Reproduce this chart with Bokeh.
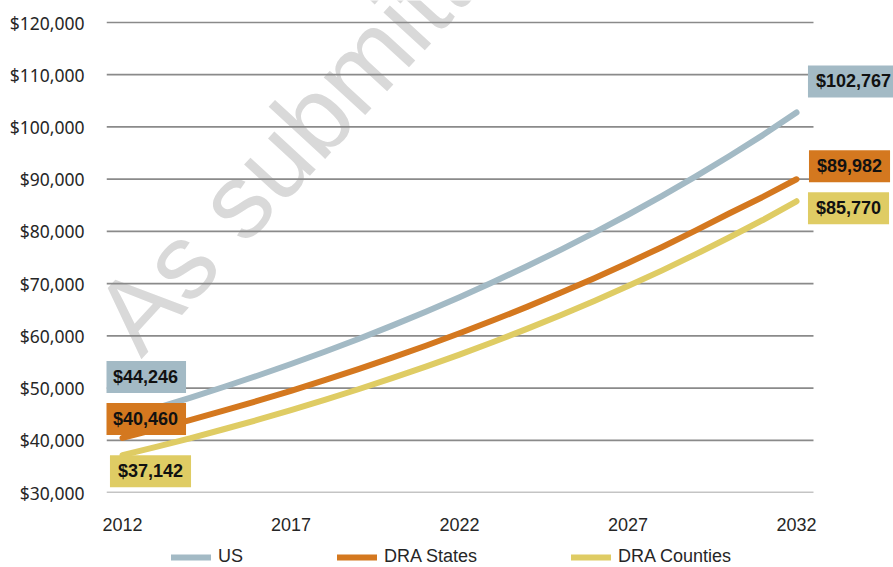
from bokeh.plotting import figure
from bokeh.layouts import column
from bokeh.models import Label, Legend, LegendItem, NumeralTickFormatter, Range1d
from bokeh.embed import file_html
from bokeh.resources import INLINE

# ---------------- data ----------------
years = list(range(2012, 2033))
us = [44246, 46150, 48130, 50200, 52360, 54610, 56960, 59400, 61960, 64620,
      67400, 70300, 73320, 76470, 79760, 83190, 86760, 90490, 94380, 98440, 102767]
dra_states = [40460, 42130, 43860, 45660, 47530, 49480, 51510, 53620, 55820, 58110,
              60490, 62970, 65550, 68240, 71040, 73950, 76980, 80140, 83430, 86600, 89982]
dra_counties = [37142, 38730, 40380, 42110, 43900, 45780, 47730, 49770, 51890, 54100,
                56410, 58820, 61330, 63950, 66680, 69520, 72490, 75590, 78820, 82180, 85770]
series_names = ["US", "DRA States", "DRA Counties"]
x_ticks = [2012, 2017, 2022, 2027, 2032]
y_ticks = [30000, 40000, 50000, 60000, 70000, 80000, 90000, 100000, 110000, 120000]
watermark_text = "As submitted"

# ---------------- styles ----------------
colors = ["#A3BAC5", "#D4781F", "#DFCC64"]
start_offsets = [(23, 41), (23, 19), (28, -16)]
end_offsets = [(57, 31), (53, 13), (52, -7)]
SANS = "Liberation Sans, Arial, sans-serif"
X_START, X_END, GRID_END = 2011.5252, 2034.878, 2032.504
Y_START, Y_END = 30000, 124213
WM_X, WM_Y = 2011.75, 60255
series = [us, dra_states, dra_counties]

p = figure(width=893, height=540, output_backend="svg", toolbar_location=None,
           x_range=Range1d(X_START, X_END), y_range=Range1d(Y_START, Y_END),
           min_border_left=106, min_border_right=0, min_border_top=0,
           min_border_bottom=48)
p.outline_line_color = None
p.background_fill_color = "white"
p.border_fill_color = "white"

# watermark (under the grid)
p.add_layout(Label(x=WM_X, y=WM_Y, text=watermark_text, angle=47.5,
                   angle_units="deg", text_font=SANS, text_font_size="106px",
                   text_baseline="alphabetic", text_align="left",
                   text_color="#d9d9d9", level="image"))

# axes
p.xaxis.ticker = x_ticks
p.yaxis.ticker = y_ticks
p.yaxis.formatter = NumeralTickFormatter(format="$0,0")
for ax in (p.xaxis[0], p.yaxis[0]):
    ax.axis_line_color = None
    ax.major_tick_line_color = None
    ax.minor_tick_line_color = None
    ax.major_label_text_color = "#262626"
p.xaxis.major_label_text_font = SANS
p.xaxis.major_label_text_font_size = "18px"
p.xaxis.major_label_standoff = 19
p.yaxis.major_label_text_font = "Noto Sans"
p.yaxis.major_label_text_font_size = "17.5px"
p.yaxis.major_label_standoff = 16

# horizontal gridlines at the y ticks, ending at the plot edge
p.xgrid.grid_line_color = None
p.ygrid.grid_line_color = None
p.segment(x0=[X_START] * len(y_ticks), x1=[GRID_END] * len(y_ticks),
          y0=y_ticks, y1=y_ticks, line_color="#8a8a8a", line_width=1.7,
          level="underlay")

# lines + end labels
for name, vals, c, so, eo in zip(series_names, series, colors,
                                  start_offsets, end_offsets):
    p.line(years, vals, line_color=c, line_width=6, line_cap="round",
           line_join="round")
    for xv, yv, off in ((years[0], vals[0], so), (years[-1], vals[-1], eo)):
        p.add_layout(Label(x=xv, y=yv, x_offset=off[0], y_offset=off[1],
                           text=f"${yv:,}", text_align="center",
                           text_baseline="middle", text_font=SANS,
                           text_font_size="18px", text_font_style="bold",
                           text_color="#111111", background_fill_color=c,
                           padding=(8, 6)))

# legend strip underneath
pl = figure(width=893, height=27, output_backend="svg", toolbar_location=None,
            x_range=Range1d(0, 1), y_range=Range1d(0, 1),
            x_axis_type=None, y_axis_type=None, min_border=0)
pl.outline_line_color = None
pl.xgrid.visible = False
pl.ygrid.visible = False
items = []
for name, vals, c in zip(series_names, series, colors):
    r = pl.line(years, vals, line_color=c, line_width=6, line_cap="round")
    items.append(LegendItem(label=name, renderers=[r]))
legend = Legend(items=items, orientation="horizontal", location=(65, 0),
                padding=0, margin=0, spacing=94, label_standoff=7,
                glyph_width=40, glyph_height=20, label_height=20,
                label_text_font=SANS, label_text_font_size="18px",
                label_text_color="#262626", border_line_alpha=0,
                background_fill_alpha=0)
pl.add_layout(legend, "center")

layout = column(p, pl, spacing=0)
open("out.html", "w").write(file_html(layout, INLINE))
